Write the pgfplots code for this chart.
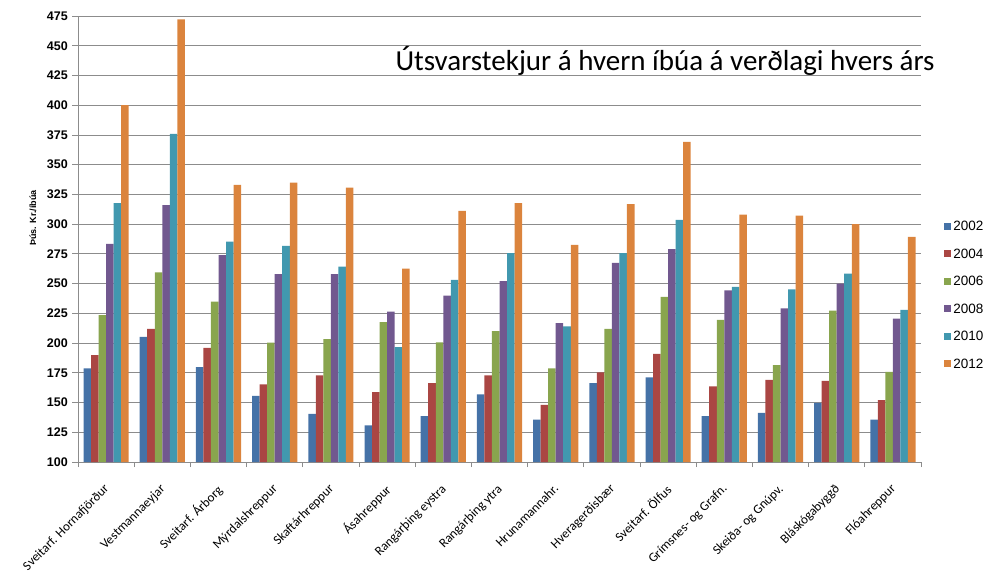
\documentclass[border=0pt]{standalone}
\usepackage{fontspec}
\setmainfont{Carlito}
\newfontfamily\arialfont{Liberation Sans}
\usepackage{pgfplots}
\pgfplotsset{compat=1.18}
\definecolor{c1}{HTML}{4572A7}
\definecolor{c2}{HTML}{AA4643}
\definecolor{c3}{HTML}{89A54E}
\definecolor{c4}{HTML}{71588F}
\definecolor{c5}{HTML}{4198AF}
\definecolor{c6}{HTML}{DB843D}
\definecolor{gridc}{HTML}{8C8C8C}
\begin{document}
\begin{tikzpicture}
\useasboundingbox (0,0) rectangle (998pt,574pt);
\begin{axis}[
  at={(78pt,112pt)}, anchor=south west,
  width=843pt, height=446pt, scale only axis,
  ybar=0pt, bar width=0.134,
  xmin=0.5, xmax=15.5, ymin=100, ymax=475,
  ytick={100,125,...,475},
  xtick={1,...,15},
  xticklabels={Sveitarf. Hornafjörður, Vestmannaeyjar, Sveitarf. Árborg, Mýrdalshreppur, Skaftárhreppur, Ásahreppur, Rangárþing eystra, Rangárþing ytra, Hrunamannahr., Hveragerðisbær, Sveitarf. Ölfus, Grímsnes- og Grafn., Skeiða- og Gnúpv., Bláskógabyggð, Flóahreppur},
  minor xtick={0.5,1.5,...,15.5},
  axis x line*=bottom, axis y line*=left,
  axis line style={gridc, line width=0.8pt},
  tick align=outside,
  major x tick style={draw=none},
  minor x tick style={gridc, line width=0.8pt},
  minor tick length=5pt,
  major tick length=6pt,
  y tick style={gridc, line width=0.8pt},
  ymajorgrids, grid style={gridc, line width=0.8pt},
  /pgf/number format/assume math mode=true,
  yticklabel style={font=\arialfont\bfseries\fontsize{12.5}{12.5}\selectfont, inner sep=1pt, xshift=-3pt},
  xticklabel style={font=\fontsize{13}{13}\selectfont, xshift=-3pt, yshift=-15pt, rotate=45, anchor=north east, inner sep=0pt},
  legend style={at={(1.0275,0.545)}, anchor=north west, draw=none, fill=none,
    font=\arialfont\fontsize{13.5}{14}\selectfont, row sep=12.6pt, inner sep=0pt,
    /tikz/every even column/.append style={column sep=4pt}},
  legend cell align=left,
  legend image code/.code={\fill[#1] (0pt,-3pt) rectangle (7pt,4pt);},
]
\addplot[fill=c1, draw=none] coordinates {(1,178.7) (2,205.3) (3,179.8) (4,155.6) (5,140.4) (6,130.9) (7,138.5) (8,156.8) (9,135.7) (10,166.3) (11,171.1) (12,138.5) (13,141.3) (14,149.7) (15,135.7)};
\addplot[fill=c2, draw=none] coordinates {(1,189.9) (2,212.0) (3,196.0) (4,165.2) (5,172.8) (6,158.7) (7,166.3) (8,172.8) (9,148.0) (10,175.3) (11,191.0) (12,163.5) (13,169.1) (14,168.2) (15,152.0)};
\addplot[fill=c3, draw=none] coordinates {(1,223.6) (2,259.5) (3,234.8) (4,200.3) (5,203.4) (6,217.7) (7,200.6) (8,210.1) (9,178.7) (10,212.0) (11,238.8) (12,219.6) (13,181.5) (14,227.2) (15,175.8)};
\addplot[fill=c4, draw=none] coordinates {(1,283.4) (2,316.0) (3,273.9) (4,257.9) (5,257.9) (6,226.4) (7,239.8) (8,252.0) (9,216.8) (10,267.4) (11,278.9) (12,244.4) (13,229.2) (14,250.0) (15,220.5)};
\addplot[fill=c5, draw=none] coordinates {(1,317.7) (2,375.8) (3,285.3) (4,281.7) (5,264.3) (6,196.6) (7,253.1) (8,275.6) (9,214.0) (10,275.6) (11,303.6) (12,247.2) (13,245.2) (14,258.4) (15,228.0)};
\addplot[fill=c6, draw=none] coordinates {(1,400.0) (2,472.1) (3,333.1) (4,335.0) (5,330.8) (6,262.6) (7,311.2) (8,317.7) (9,282.6) (10,316.8) (11,369.1) (12,308.1) (13,307.2) (14,300.0) (15,289.3)};
\legend{2002,2004,2006,2008,2010,2012}
\end{axis}
\node[font=\fontsize{29}{29}\selectfont, anchor=center] at (665pt,513pt) {Útsvarstekjur á hvern íbúa á verðlagi hvers árs};
\node[rotate=90, font=\arialfont\bfseries\fontsize{9}{9}\selectfont] at (33pt,356pt) {Þús. Kr./íbúa};
\end{tikzpicture}
\end{document}
